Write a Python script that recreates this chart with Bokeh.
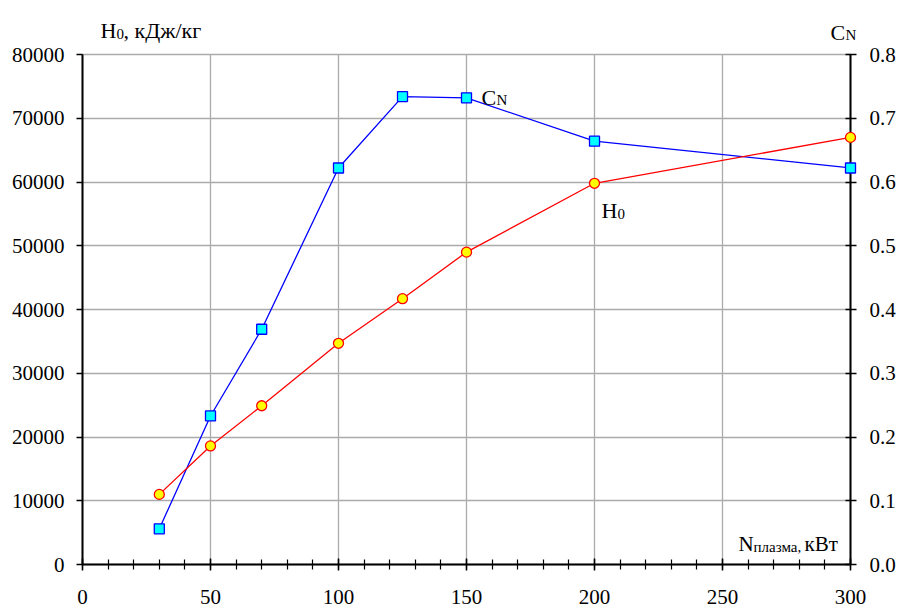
from bokeh.plotting import figure
from bokeh.models import LinearAxis, Range1d, Label, SingleIntervalTicker, NumeralTickFormatter
from bokeh.embed import file_html
from bokeh.resources import INLINE

# ---- data ----
power_kw = [30, 50, 70, 100, 125, 150, 200, 300]
h0_values = [11000, 18600, 24900, 34700, 41700, 49000, 59800, 67000]
cn_values = [0.056, 0.233, 0.369, 0.622, 0.734, 0.732, 0.664, 0.622]

FONT = "'Liberation Serif'"
W, H = 901, 608
OX, OY = 82, 564          # pixel position of the origin (0, 0)
PX_X = 768 / 300.0        # pixels per kW
PX_Y = 510 / 80000.0      # pixels per kJ/kg
CN_PER_H = 0.8 / 80000    # right-axis units per left-axis unit

X_START, X_END = -OX / PX_X, (W - OX) / PX_X
Y_START, Y_END = -(H - OY) / PX_Y, OY / PX_Y

p = figure(width=W, height=H, x_range=Range1d(X_START, X_END), y_range=Range1d(Y_START, Y_END),
           output_backend="svg", toolbar_location=None, title=None,
           min_border_left=0, min_border_right=0, min_border_top=0, min_border_bottom=0,
           outline_line_color=None, background_fill_color="white", border_fill_color="white")
p.extra_y_ranges = {"cn": Range1d(Y_START * CN_PER_H, Y_END * CN_PER_H)}

# x axis at y = 0
xa = p.xaxis[0]
xa.fixed_location = 0
xa.ticker = SingleIntervalTicker(interval=50, num_minor_ticks=5)
xa.bounds = (0, 300)
xa.axis_line_width = 2
xa.major_tick_in = 6
xa.major_tick_out = 6
xa.major_tick_line_width = 1.5
xa.minor_tick_in = 5
xa.minor_tick_out = 5
xa.minor_tick_line_width = 1.2
xa.major_label_standoff = 19
xa.major_label_text_font = FONT
xa.major_label_text_font_size = "21px"
xa.major_label_text_color = "black"

# left axis at x = 0
ya = p.yaxis[0]
ya.fixed_location = 0
ya.ticker = SingleIntervalTicker(interval=10000, num_minor_ticks=0)
ya.formatter = NumeralTickFormatter(format="0")
ya.bounds = (0, 80000)
ya.axis_line_width = 2
ya.major_tick_in = 0
ya.major_tick_out = 6
ya.major_tick_line_width = 1.5
ya.minor_tick_line_color = None
ya.major_label_standoff = 12
ya.major_label_text_font = FONT
ya.major_label_text_font_size = "21px"
ya.major_label_text_color = "black"

# right axis at x = 300
ra = LinearAxis(y_range_name="cn", ticker=SingleIntervalTicker(interval=0.1, num_minor_ticks=0),
                formatter=NumeralTickFormatter(format="0.0"), fixed_location=300, bounds=(0, 0.8))
ra.axis_line_width = 2
ra.major_tick_in = 5
ra.major_tick_out = 6
ra.major_tick_line_width = 1.5
ra.minor_tick_line_color = None
ra.major_label_standoff = 13
ra.major_label_text_font = FONT
ra.major_label_text_font_size = "21px"
ra.major_label_text_color = "black"
p.add_layout(ra, "right")

p.xgrid[0].cross_bounds = (0, 80000)
p.ygrid[0].cross_bounds = (0, 300)
p.xgrid[0].bounds = (0, 300)
p.ygrid[0].bounds = (0, 80000)
for g in (p.xgrid[0], p.ygrid[0]):
    g.grid_line_color = "#aaaaaa"
    g.grid_line_width = 1.3

# series
p.line(power_kw, cn_values, y_range_name="cn", line_color="blue", line_width=1.3)
p.line(power_kw, h0_values, line_color="red", line_width=1.3)
p.scatter(power_kw, cn_values, y_range_name="cn", marker="square", size=10,
          fill_color="cyan", line_color="blue", line_width=1.3, level="annotation")
p.scatter(power_kw, h0_values, marker="circle", size=10,
          fill_color="yellow", line_color="red", line_width=1.3, level="annotation")

# text helpers (screen px -> data units of the left axis)
def sx2x(sx):
    return (sx - OX) / PX_X

def sy2y(sy):
    return (OY - sy) / PX_Y

def txt(s, sx, sy, size):
    p.add_layout(Label(x=sx2x(sx), y=sy2y(sy), text=s, text_font=FONT,
                       text_font_size=size, text_color="black",
                       text_align="left", text_baseline="alphabetic"))

BIG, SUB = "22px", "15px"
# left axis title
txt("H", 100, 30, BIG)
txt("0", 116, 33, SUB)
txt(", кДж/кг", 123, 30, BIG)
# right axis title
txt("C", 830, 32, BIG)
txt("N", 845, 34, SUB)
# x axis title
txt("N", 738, 543, "21px")
txt("плазма,", 753, 546, SUB)
txt("кВт", 804, 543, "21px")
# series labels
txt("C", 481, 97, BIG)
txt("N", 496, 99, SUB)
txt("H", 601, 210, BIG)
txt("0", 617, 213, SUB)

open("out.html", "w").write(file_html(p, INLINE))
